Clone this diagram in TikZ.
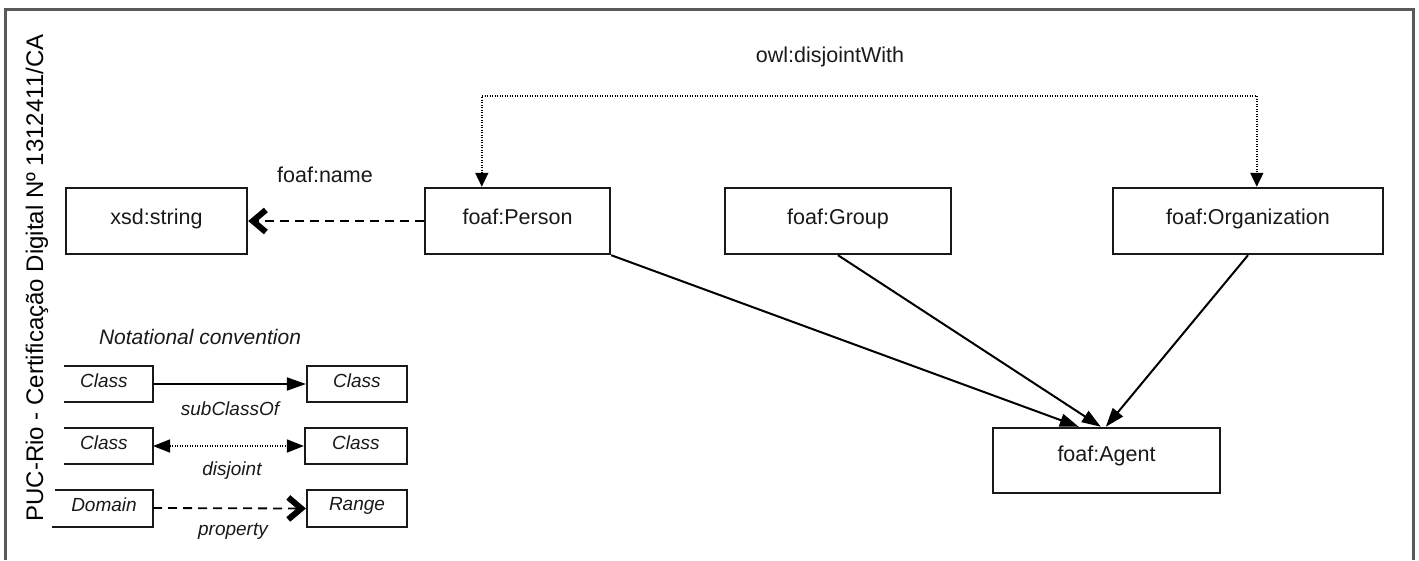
\documentclass[tikz,border=0pt]{standalone}
\usepackage{fontspec}
\setmainfont{Liberation Sans}
\usetikzlibrary{arrows.meta}
\tikzset{
  cls/.style={draw=black!90, line width=2.4pt, inner sep=0pt, font=\fontsize{21.5}{24}\selectfont, text=black!90, text depth=9pt},
  lbl/.style={inner sep=0pt, font=\fontsize{21.5}{24}\selectfont, text=black!90},
  leglbl/.style={inner sep=0pt, font=\fontsize{19}{22}\selectfont\itshape, text=black!90},
  sub/.style={line width=2pt, -{Triangle[length=19pt,width=13pt]}},
  prop/.style={line width=2pt, dash pattern=on 9pt off 6pt, -{Straight Barb[length=13pt,width=22pt,line width=6pt]}},
  disj/.style={line width=1.6pt, dash pattern=on 1.2pt off 1.3pt, {Triangle[length=14pt,width=13pt]}-{Triangle[length=14pt,width=13pt]}},
  legbox/.style={draw=black!90, line width=2.2pt},
}
\begin{document}
\begin{tikzpicture}[x=1pt,y=-1pt]
\useasboundingbox (0,0) rectangle (1419,560);
% frame
\draw[black!65, line width=3pt] (5,560) -- (5,9) -- (1413,9) -- (1413,560);
% watermark
\node[rotate=90, inner sep=0pt, font=\fontsize{24}{28}\selectfont] (wm) at (37,278) {PUC-Rio - Certificação Digital Nº 1312411/CA};

% main classes
\node[cls, minimum width=181pt, minimum height=66pt] (xsd) at (156.5,221) {xsd:string};
\node[cls, minimum width=185pt, minimum height=66pt] (person) at (517.5,221) {foaf:Person};
\node[cls, minimum width=226pt, minimum height=66pt] (group) at (838,221) {foaf:Group};
\node[cls, minimum width=270pt, minimum height=66pt] (org) at (1248,221) {foaf:Organization};
\node[cls, minimum width=227pt, minimum height=65pt, text depth=14pt] (agent) at (1106.5,460.5) {foaf:Agent};

% labels
\node[lbl] (lname) at (325,175) {foaf:name};
\node[lbl] (ldisj) at (830,57) {owl:disjointWith};

% connectors
\draw[prop] (person.west) -- (xsd.east);
\coordinate (dtop) at (800,96);
\draw[disj] ([xshift=58pt]person.north west) |- (dtop) -| ([xshift=145pt]org.north west);
\draw[sub] (person.south east) -- ([xshift=87pt]agent.north west);
\draw[sub] (group.south) -- ([xshift=109pt]agent.north west);
\draw[sub] (org.south) -- ([xshift=114pt]agent.north west);

% legend
\node[inner sep=0pt, font=\fontsize{21}{24}\selectfont\itshape, text=black!90] (legt) at (200,337) {Notational convention};
% row 1
\draw[legbox] (64,366) -- (153,366) -- (153,402) -- (64,402);
\coordinate (l1) at (153,384);
\node[leglbl] (c1a) at (104,381) {Class};
\node[legbox, minimum width=100pt, minimum height=36pt, inner sep=0pt] (c1b) at (357,384) {};
\node[leglbl] at ([yshift=3pt]c1b) {Class};
\draw[sub, line width=1.8pt, -{Triangle[length=19pt,width=13pt]}] (l1) -- (c1b.west);
\node[leglbl] (lsub) at (230,409) {subClassOf};
% row 2
\draw[legbox] (64,428) -- (153,428) -- (153,464) -- (64,464);
\coordinate (l2) at (153,446);
\node[leglbl] (c2a) at (104,443) {Class};
\node[legbox, minimum width=102pt, minimum height=36pt, inner sep=0pt] (c2b) at (356,446) {};
\node[leglbl] at ([yshift=3pt]c2b) {Class};
\draw[disj, {Triangle[length=17pt,width=13pt]}-{Triangle[length=17pt,width=13pt]}] (l2) -- (c2b.west);
\node[leglbl] (ldj) at (232,471) {disjoint};
% row 3
\draw[legbox] (55,490) -- (153,490) -- (153,527) -- (52,527);
\coordinate (l3) at (153,508);
\node[leglbl] (c3a) at (104,505) {Domain};
\node[legbox, minimum width=100pt, minimum height=37pt, inner sep=0pt] (c3b) at (357,508.5) {};
\node[leglbl] at ([yshift=3pt]c3b) {Range};
\draw[prop, line width=1.8pt] (l3) -- (c3b.west);
\node[leglbl] (lprop) at (233,531) {property};
\end{tikzpicture}
\end{document}
